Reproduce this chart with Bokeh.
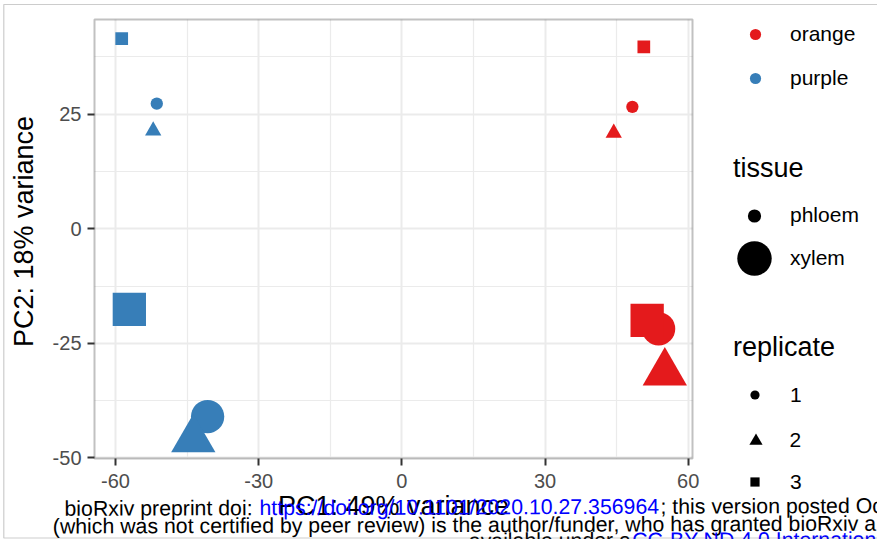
from bokeh.plotting import figure
from bokeh.models import (ColumnDataSource, FixedTicker, Legend, LegendItem, Label,
                          BoxAnnotation, Range1d)
from bokeh.embed import file_html
from bokeh.resources import INLINE
from bokeh.core.properties import value

# ---------------- data ----------------
condition = ["orange"] * 6 + ["purple"] * 6
tissue = ["phloem", "phloem", "phloem", "xylem", "xylem", "xylem"] * 2
replicate = ["1", "2", "3"] * 4
pc1 = [48.3, 44.4, 50.7, 53.8, 55.1, 51.4, -51.35, -52.1, -58.7, -40.7, -43.7, -57.1]
pc2 = [26.6, 20.9, 39.7, -21.85, -31.4, -20.0, 27.3, 21.4, 41.5, -41.0, -46.0, -17.6]

condition_levels = ["orange", "purple"]
tissue_levels = ["phloem", "xylem"]
replicate_levels = ["1", "2", "3"]

x_ticks = [-60, -30, 0, 30, 60]
x_tick_labels = ["-60", "-30", "0", "30", "60"]
x_minor = [-45, -15, 15, 45]
y_ticks = [-50, -25, 0, 25]
y_tick_labels = ["-50", "-25", "0", "25"]
y_minor = [-37.5, -12.5, 12.5, 37.5]
x_limits = (-64.4, 60.9)
y_limits = (-50.15, 45.67)

x_title = "PC1: 49% variance"
y_title = "PC2: 18% variance"

note_line1 = ["bioRxiv preprint doi: ", "https://doi.org/10.1101/2020.10.27.356964", "; this version posted Oct"]
note_line2 = ["(which was not certified by peer review) is the author/funder, who has granted bioRxiv a"]
note_line3 = ["available under a", "CC-BY-ND 4.0 Internationa"]

# ---------------- styles / layout ----------------
FONT = "Liberation Sans"
W, H = 877, 539
PANEL_L, PANEL_R, PANEL_T, PANEL_B = 94, 692, 19, 458   # panel position in px
palette = {"orange": "#E41A1C", "purple": "#377EB8"}
marker_map = {"1": "circle", "2": "triangle", "3": "square"}
size_map = {
    ("phloem", "circle"): 12.3, ("phloem", "triangle"): 16.3, ("phloem", "square"): 12.7,
    ("xylem", "circle"): 33.3, ("xylem", "triangle"): 44.3, ("xylem", "square"): 33.3,
}
NAN = float("nan")

# whole canvas is the frame; the data panel sits at PANEL_* inside it
kx = (PANEL_R - PANEL_L) / (x_limits[1] - x_limits[0])
ky = (PANEL_B - PANEL_T) / (y_limits[1] - y_limits[0])
x_start = x_limits[0] - PANEL_L / kx
x_end = x_start + W / kx
y_end = y_limits[1] + PANEL_T / ky
y_start = y_end - H / ky

markers = [marker_map[r] for r in replicate]
src = ColumnDataSource(dict(
    x=pc1, y=pc2,
    color=[palette[c] for c in condition],
    marker=markers,
    size=[size_map[(t, m)] for t, m in zip(tissue, markers)],
))

p = figure(width=W, height=H, output_backend="svg", toolbar_location=None,
           x_range=Range1d(x_start, x_end), y_range=Range1d(y_start, y_end),
           min_border=0)
p.background_fill_color = "white"
p.border_fill_color = "white"
p.outline_line_color = None

# axes placed on the panel edges
p.xaxis.fixed_location = y_limits[0]
p.yaxis.fixed_location = x_limits[0]
p.xaxis.bounds = x_limits
p.yaxis.bounds = (y_limits[0], y_limits[1] + 3.3)   # shifts y title to match
p.xaxis.ticker = FixedTicker(ticks=x_ticks)
p.yaxis.ticker = FixedTicker(ticks=y_ticks)
p.xaxis.major_label_overrides = dict(zip(x_ticks, x_tick_labels))
p.yaxis.major_label_overrides = dict(zip(y_ticks, y_tick_labels))
p.xaxis.axis_label = x_title
p.yaxis.axis_label = y_title
for ax in (p.xaxis, p.yaxis):
    ax.axis_line_color = None
    ax.major_tick_line_color = "#333333"
    ax.major_tick_line_width = 2
    ax.major_tick_in = 0
    ax.major_tick_out = 7
    ax.minor_tick_line_color = None
    ax.major_label_text_font = FONT
    ax.major_label_text_font_size = "20px"
    ax.major_label_text_color = "#4D4D4D"
    ax.axis_label_text_font = FONT
    ax.axis_label_text_font_size = "27px"
    ax.axis_label_text_font_style = "normal"
    ax.axis_label_text_color = "black"
p.xaxis.major_label_standoff = 8
p.xaxis.axis_label_standoff = 0
p.yaxis.major_label_standoff = 6
p.yaxis.axis_label_standoff = 11

# grid
p.xgrid.ticker = FixedTicker(ticks=x_ticks, minor_ticks=x_minor)
p.ygrid.ticker = FixedTicker(ticks=y_ticks, minor_ticks=y_minor)
p.xgrid.bounds = x_limits
p.ygrid.bounds = y_limits
p.xgrid.cross_bounds = y_limits
p.ygrid.cross_bounds = x_limits
for g in (p.xgrid, p.ygrid):
    g.grid_line_color = "#EBEBEB"
    g.grid_line_width = 2
    g.minor_grid_line_color = "#EBEBEB"
    g.minor_grid_line_width = 1.2

# panel border
p.add_layout(BoxAnnotation(left=x_limits[0], right=x_limits[1], bottom=y_limits[0], top=y_limits[1],
                           fill_color=None, line_color="#333333", line_width=2, level="underlay"))

p.scatter("x", "y", source=src, marker="marker", size="size",
          fill_color="color", line_color=None)

# ---------------- legends ----------------
def dummy(marker, color, alpha=1.0):
    return p.scatter(x=[NAN], y=[NAN], marker=marker, fill_color=color,
                     fill_alpha=alpha, line_color=None)

def make_legend(items, loc, gw, gh, standoff, spacing=0, title=None, title_standoff=0):
    kw = dict(items=items, location=loc, orientation="vertical",
              glyph_width=gw, glyph_height=gh, label_height=gh,
              label_standoff=standoff, spacing=spacing, padding=0, margin=0,
              border_line_color=None, background_fill_alpha=0,
              label_text_font=FONT, label_text_font_size="21px", label_text_color="black")
    if title is not None:
        kw.update(title=title, title_text_font=FONT, title_text_font_size="27px",
                  title_text_font_style="normal", title_text_color="black",
                  title_standoff=title_standoff)
    lg = Legend(**kw)
    p.add_layout(lg)
    return lg

# colour legend
cond_items = [LegendItem(label=value(c), renderers=[dummy("circle", palette[c])]) for c in condition_levels]
make_legend(cond_items, (741, 447), 28, 28, 21, spacing=16)

# tissue legend: labels + small key; the big xylem key is a second, label-less legend
tis_a = [LegendItem(label=value(tissue_levels[0]), renderers=[dummy("circle", "black")]),
         LegendItem(label=value(tissue_levels[1]), renderers=[dummy("circle", "black", 0.0)])]
make_legend(tis_a, (733, 264.2), 42, 33, 15, spacing=10, title="tissue", title_standoff=15)
tis_b = [LegendItem(label=value(" "), renderers=[dummy("circle", "black")])]
make_legend(tis_b, (711, 237.7), 86, 86, 0)

# replicate legend
rep_a = [LegendItem(label=value(replicate_levels[0]), renderers=[dummy(marker_map["1"], "black")]),
         LegendItem(label=value(replicate_levels[2]), renderers=[dummy(marker_map["3"], "black")])]
make_legend(rep_a, (733, 45.3), 43, 23, 14, spacing=63, title="replicate", title_standoff=20)
rep_b = [LegendItem(label=value(replicate_levels[1]), renderers=[dummy(marker_map["2"], "black")])]
make_legend(rep_b, (738.5, 82.5), 33, 33, 18)

# ---------------- page overlay (preprint notice) ----------------
TILT = 0.0035
def note(text, x, y, color):
    p.add_layout(Label(x=x, y=H - y, x_units="screen", y_units="screen", text=text,
                       text_font=FONT, text_font_size="21.3px", text_color=color,
                       text_align="left", text_baseline="alphabetic", angle=TILT))

note(note_line1[0], 64, 508.3, "black")
note(note_line1[1], 259, 507.6, "#0000FF")
note(note_line1[2], 660, 506.2, "black")
note(note_line2[0], 52.3, 526.0, "black")
note(note_line3[0], 468.3, 540.5, "black")
note(note_line3[1], 631.7, 540.0, "#0000FF")

p.add_layout(BoxAnnotation(left=3.3, right=W + 20, top=H - 4, bottom=H - 537.5,
                           left_units="screen", right_units="screen",
                           top_units="screen", bottom_units="screen",
                           fill_color=None, line_color="#555555", line_width=1.2))

open("out.html", "w").write(file_html(p, INLINE))
